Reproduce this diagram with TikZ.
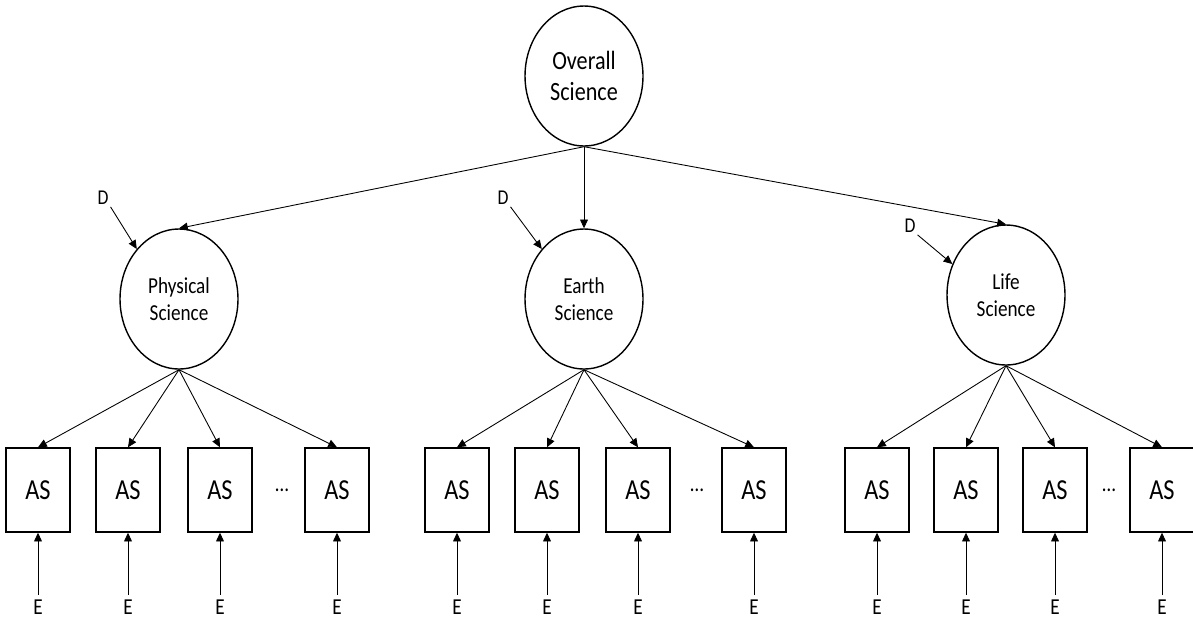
\documentclass[tikz,border=0pt]{standalone}
\usepackage{fontspec}
\setmainfont{Carlito}[FakeStretch=0.84]
\usetikzlibrary{arrows.meta,shapes.geometric}
\tikzset{
	latent/.style={draw, ellipse, line width=0.8pt, minimum width=2.36cm, minimum height=2.8cm, inner sep=0pt, align=center},
	obs/.style={draw, rectangle, line width=0.8pt, minimum width=1.28cm, minimum height=1.68cm, inner sep=0pt, font=\fontsize{16.5}{18}\selectfont},
	errlabel/.style={inner sep=2.5pt, font=\fontsize{13}{15}\selectfont},
	distlabel/.style={inner sep=1pt, font=\fontsize{12}{14}\selectfont},
	arr/.style={-{Triangle[length=5pt,width=4.5pt]}, line width=0.5pt},
}

\begin{document}
\begin{tikzpicture}[x=0.02cm, y=-0.02cm]
			%%%%% START %%%%%
			\useasboundingbox (0, 0) rectangle (1193, 620);
			
			\node[latent, font=\fontsize{15}{18}\selectfont] (overall) at (584, 76) {Overall\\Science};
			
			\node[latent, font=\fontsize{13}{15.3}\selectfont] (phys) at (179, 299) {Physical\\Science};
			\node[latent, font=\fontsize{13}{15.3}\selectfont] (earth) at (584, 299) {Earth\\Science};
			\node[latent, font=\fontsize{13}{15.3}\selectfont] (life) at (1006, 295) {Life\\Science};
			
			\draw[arr] (overall.south) -- (phys.north);
			\draw[arr] (overall.south) -- (earth.north);
			\draw[arr] (overall.south) -- (life.north);
			
			\node[distlabel] (dphys) at (103, 198) {D};
			\node[distlabel] (dearth) at (503, 198) {D};
			\node[distlabel] (dlife) at (910, 226) {D};
			\draw[arr] (dphys.south east) -- (phys.north west);
			\draw[arr] (dearth.south east) -- (earth.north west);
			\draw[arr] (dlife.south east) -- (life.150);
			
			%%%%% physical %%%%%
			\node[obs] (p1) at (38, 490) {AS};
			\node[obs] (p2) at (128, 490) {AS};
			\node[obs] (p3) at (220, 490) {AS};
			\node[font=\fontsize{13}{15}\selectfont] (pdots) at (282, 490) {\ldots};
			\node[obs] (p4) at (337, 490) {AS};
			
			\draw[arr] (phys.south) -- (p1.north);
			\draw[arr] (phys.south) -- (p2.north);
			\draw[arr] (phys.south) -- (p3.north);
			\draw[arr] (phys.south) -- (p4.north);
			
			\node[errlabel] (pe1) at (38, 607) {E};
			\node[errlabel] (pe2) at (128, 607) {E};
			\node[errlabel] (pe3) at (220, 607) {E};
			\node[errlabel] (pe4) at (337, 607) {E};
			\draw[arr] (pe1) -- (p1);
			\draw[arr] (pe2) -- (p2);
			\draw[arr] (pe3) -- (p3);
			\draw[arr] (pe4) -- (p4);
			
			%%%%% earth %%%%%
			\node[obs] (e1) at (457, 490) {AS};
			\node[obs] (e2) at (547, 490) {AS};
			\node[obs] (e3) at (638, 490) {AS};
			\node[font=\fontsize{13}{15}\selectfont] (edots) at (697, 490) {\ldots};
			\node[obs] (e4) at (754, 490) {AS};
			
			\draw[arr] (earth.south) -- (e1.north);
			\draw[arr] (earth.south) -- (e2.north);
			\draw[arr] (earth.south) -- (e3.north);
			\draw[arr] (earth.south) -- (e4.north);
			
			\node[errlabel] (ee1) at (457, 607) {E};
			\node[errlabel] (ee2) at (547, 607) {E};
			\node[errlabel] (ee3) at (638, 607) {E};
			\node[errlabel] (ee4) at (754, 607) {E};
			\draw[arr] (ee1) -- (e1);
			\draw[arr] (ee2) -- (e2);
			\draw[arr] (ee3) -- (e3);
			\draw[arr] (ee4) -- (e4);
			
			%%%%% life %%%%%
			\node[obs] (l1) at (877, 490) {AS};
			\node[obs] (l2) at (966, 490) {AS};
			\node[obs] (l3) at (1055, 490) {AS};
			\node[font=\fontsize{13}{15}\selectfont] (ldots) at (1109, 490) {\ldots};
			\node[obs] (l4) at (1162, 490) {AS};
			
			\draw[arr] (life.south) -- (l1.north);
			\draw[arr] (life.south) -- (l2.north);
			\draw[arr] (life.south) -- (l3.north);
			\draw[arr] (life.south) -- (l4.north);
			
			\node[errlabel] (le1) at (877, 607) {E};
			\node[errlabel] (le2) at (966, 607) {E};
			\node[errlabel] (le3) at (1055, 607) {E};
			\node[errlabel] (le4) at (1162, 607) {E};
			\draw[arr] (le1) -- (l1);
			\draw[arr] (le2) -- (l2);
			\draw[arr] (le3) -- (l3);
			\draw[arr] (le4) -- (l4);
			
			%%%%% END %%%%%
\end{tikzpicture}
\end{document}
